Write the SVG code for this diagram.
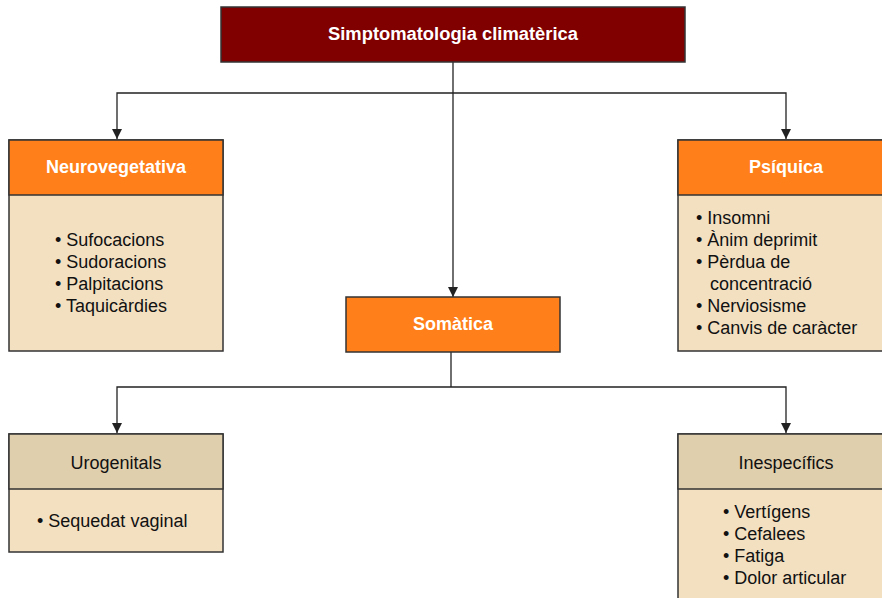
<svg xmlns="http://www.w3.org/2000/svg" width="882" height="598" viewBox="0 0 882 598">
<style>
.box{stroke:#333;stroke-width:1.5}
.root{fill:#800000}
.hd{fill:#FF7F1A}
.hd2{fill:#E0CFAD}
.bd{fill:#F3E0C1}
.t{font-family:"Liberation Sans",Arial,sans-serif;font-size:18px;fill:#111}
.tw{font-family:"Liberation Sans",Arial,sans-serif;font-size:18px;font-weight:bold;fill:#fff}
.c{stroke:#222;stroke-width:1.3;fill:none}
</style>
<rect width="882" height="598" fill="#fff"/>
<g id="connectors">
<path class="c" d="M453,62 V297"/>
<path class="c" d="M117,139 V93 H786 V139"/>
<path class="c" d="M451,352 V387"/>
<path class="c" d="M117,433 V387 H786 V433"/>
<path d="M112,129 L122,129 L117,139 Z" fill="#222"/>
<path d="M781,129 L791,129 L786,139 Z" fill="#222"/>
<path d="M448,287 L458,287 L453,297 Z" fill="#222"/>
<path d="M112,423 L122,423 L117,433 Z" fill="#222"/>
<path d="M781,423 L791,423 L786,433 Z" fill="#222"/>
</g>
<g id="root">
<rect class="box root" x="221" y="7" width="464" height="55"/>
<text class="tw" x="453" y="40" text-anchor="middle" textLength="250" lengthAdjust="spacingAndGlyphs">Simptomatologia climatèrica</text>
</g>
<g id="neurovegetativa">
<rect class="box bd" x="9" y="140" width="214" height="211"/>
<rect class="box hd" x="9" y="140" width="214" height="55"/>
<text class="tw" x="116" y="173" text-anchor="middle">Neurovegetativa</text>
<text class="t" x="55" y="246">• Sufocacions</text>
<text class="t" x="55" y="268">• Sudoracions</text>
<text class="t" x="55" y="290">• Palpitacions</text>
<text class="t" x="55" y="312">• Taquicàrdies</text>
</g>
<g id="psiquica">
<rect class="box bd" x="678" y="140" width="210" height="211"/>
<rect class="box hd" x="678" y="140" width="210" height="55"/>
<text class="tw" x="786" y="173" text-anchor="middle">Psíquica</text>
<text class="t" x="696" y="224">• Insomni</text>
<text class="t" x="696" y="246">• Ànim deprimit</text>
<text class="t" x="696" y="268">• Pèrdua de</text>
<text class="t" x="710" y="290">concentració</text>
<text class="t" x="696" y="312">• Nerviosisme</text>
<text class="t" x="696" y="334">• Canvis de caràcter</text>
</g>
<g id="somatica">
<rect class="box hd" x="346" y="297" width="214" height="55"/>
<text class="tw" x="453" y="330" text-anchor="middle">Somàtica</text>
</g>
<g id="urogenitals">
<rect class="box bd" x="9" y="434" width="214" height="118"/>
<rect class="box hd2" x="9" y="434" width="214" height="55"/>
<text class="t" x="116" y="469" text-anchor="middle">Urogenitals</text>
<text class="t" x="37" y="527">• Sequedat vaginal</text>
</g>
<g id="inespecifics">
<rect class="box bd" x="678" y="434" width="210" height="170"/>
<rect class="box hd2" x="678" y="434" width="210" height="55"/>
<text class="t" x="786" y="469" text-anchor="middle">Inespecífics</text>
<text class="t" x="723" y="518">• Vertígens</text>
<text class="t" x="723" y="540">• Cefalees</text>
<text class="t" x="723" y="562">• Fatiga</text>
<text class="t" x="723" y="584">• Dolor articular</text>
</g>
</svg>
